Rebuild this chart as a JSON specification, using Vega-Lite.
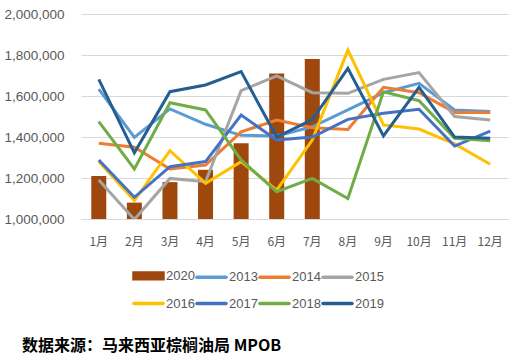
{
  "$schema": "https://vega.github.io/schema/vega-lite/v6.json",
  "width": 427,
  "height": 205,
  "autosize": {"type": "none"},
  "padding": {"left": 81, "top": 14, "right": 7, "bottom": 140},
  "background": "white",
  "title": {
    "text": "数据来源：马来西亚棕榈油局 MPOB",
    "orient": "bottom",
    "anchor": "start",
    "frame": "group",
    "dx": -59,
    "offset": 27,
    "font": "Noto Sans CJK SC",
    "fontSize": 16,
    "fontWeight": "bold",
    "color": "#000000"
  },
  "config": {
    "view": {"stroke": null},
    "axis": {"labelFont": "Liberation Sans", "labelColor": "#595959"}
  },
  "data": {
    "values": [
      {"month": "1月", "year": "2020", "value": 1210000},
      {"month": "2月", "year": "2020", "value": 1080000},
      {"month": "3月", "year": "2020", "value": 1180000},
      {"month": "4月", "year": "2020", "value": 1240000},
      {"month": "5月", "year": "2020", "value": 1370000},
      {"month": "6月", "year": "2020", "value": 1710000},
      {"month": "7月", "year": "2020", "value": 1780000},

      {"month": "1月", "year": "2013", "value": 1634000},
      {"month": "2月", "year": "2013", "value": 1398000},
      {"month": "3月", "year": "2013", "value": 1537000},
      {"month": "4月", "year": "2013", "value": 1462000},
      {"month": "5月", "year": "2013", "value": 1408000},
      {"month": "6月", "year": "2013", "value": 1405000},
      {"month": "7月", "year": "2013", "value": 1450000},
      {"month": "8月", "year": "2013", "value": 1532000},
      {"month": "9月", "year": "2013", "value": 1616000},
      {"month": "10月", "year": "2013", "value": 1662000},
      {"month": "11月", "year": "2013", "value": 1532000},
      {"month": "12月", "year": "2013", "value": 1524000},

      {"month": "1月", "year": "2014", "value": 1369000},
      {"month": "2月", "year": "2014", "value": 1350000},
      {"month": "3月", "year": "2014", "value": 1244000},
      {"month": "4月", "year": "2014", "value": 1263000},
      {"month": "5月", "year": "2014", "value": 1425000},
      {"month": "6月", "year": "2014", "value": 1483000},
      {"month": "7月", "year": "2014", "value": 1445000},
      {"month": "8月", "year": "2014", "value": 1437000},
      {"month": "9月", "year": "2014", "value": 1642000},
      {"month": "10月", "year": "2014", "value": 1616000},
      {"month": "11月", "year": "2014", "value": 1520000},
      {"month": "12月", "year": "2014", "value": 1520000},

      {"month": "1月", "year": "2015", "value": 1190000},
      {"month": "2月", "year": "2015", "value": 998000},
      {"month": "3月", "year": "2015", "value": 1198000},
      {"month": "4月", "year": "2015", "value": 1182000},
      {"month": "5月", "year": "2015", "value": 1626000},
      {"month": "6月", "year": "2015", "value": 1698000},
      {"month": "7月", "year": "2015", "value": 1616000},
      {"month": "8月", "year": "2015", "value": 1613000},
      {"month": "9月", "year": "2015", "value": 1681000},
      {"month": "10月", "year": "2015", "value": 1714000},
      {"month": "11月", "year": "2015", "value": 1500000},
      {"month": "12月", "year": "2015", "value": 1483000},

      {"month": "1月", "year": "2016", "value": 1280000},
      {"month": "2月", "year": "2016", "value": 1090000},
      {"month": "3月", "year": "2016", "value": 1333000},
      {"month": "4月", "year": "2016", "value": 1174000},
      {"month": "5月", "year": "2016", "value": 1280000},
      {"month": "6月", "year": "2016", "value": 1141000},
      {"month": "7月", "year": "2016", "value": 1385000},
      {"month": "8月", "year": "2016", "value": 1824000},
      {"month": "9月", "year": "2016", "value": 1459000},
      {"month": "10月", "year": "2016", "value": 1439000},
      {"month": "11月", "year": "2016", "value": 1366000},
      {"month": "12月", "year": "2016", "value": 1267000},

      {"month": "1月", "year": "2017", "value": 1288000},
      {"month": "2月", "year": "2017", "value": 1106000},
      {"month": "3月", "year": "2017", "value": 1255000},
      {"month": "4月", "year": "2017", "value": 1280000},
      {"month": "5月", "year": "2017", "value": 1507000},
      {"month": "6月", "year": "2017", "value": 1385000},
      {"month": "7月", "year": "2017", "value": 1400000},
      {"month": "8月", "year": "2017", "value": 1486000},
      {"month": "9月", "year": "2017", "value": 1516000},
      {"month": "10月", "year": "2017", "value": 1535000},
      {"month": "11月", "year": "2017", "value": 1356000},
      {"month": "12月", "year": "2017", "value": 1429000},

      {"month": "1月", "year": "2018", "value": 1475000},
      {"month": "2月", "year": "2018", "value": 1244000},
      {"month": "3月", "year": "2018", "value": 1567000},
      {"month": "4月", "year": "2018", "value": 1532000},
      {"month": "5月", "year": "2018", "value": 1288000},
      {"month": "6月", "year": "2018", "value": 1133000},
      {"month": "7月", "year": "2018", "value": 1198000},
      {"month": "8月", "year": "2018", "value": 1100000},
      {"month": "9月", "year": "2018", "value": 1621000},
      {"month": "10月", "year": "2018", "value": 1577000},
      {"month": "11月", "year": "2018", "value": 1394000},
      {"month": "12月", "year": "2018", "value": 1382000},

      {"month": "1月", "year": "2019", "value": 1681000},
      {"month": "2月", "year": "2019", "value": 1323000},
      {"month": "3月", "year": "2019", "value": 1621000},
      {"month": "4月", "year": "2019", "value": 1654000},
      {"month": "5月", "year": "2019", "value": 1719000},
      {"month": "6月", "year": "2019", "value": 1400000},
      {"month": "7月", "year": "2019", "value": 1485000},
      {"month": "8月", "year": "2019", "value": 1735000},
      {"month": "9月", "year": "2019", "value": 1405000},
      {"month": "10月", "year": "2019", "value": 1642000},
      {"month": "11月", "year": "2019", "value": 1400000},
      {"month": "12月", "year": "2019", "value": 1394000}
    ]
  },
  "encoding": {
    "x": {
      "field": "month",
      "type": "ordinal",
      "sort": ["1月","2月","3月","4月","5月","6月","7月","8月","9月","10月","11月","12月"],
      "scale": {"paddingInner": 0, "paddingOuter": 0},
      "axis": {
        "title": null,
        "labelAngle": 0,
        "ticks": false,
        "tickSize": 0,
        "labelPadding": 17,
        "labelFontSize": 12,
        "labelFont": "Noto Sans CJK SC",
        "domainColor": "#D9D9D9",
        "domainWidth": 1
      }
    },
    "y": {
      "field": "value",
      "type": "quantitative",
      "scale": {"domain": [1000000, 2000000], "zero": false},
      "axis": {
        "title": null,
        "values": [1000000, 1200000, 1400000, 1600000, 1800000, 2000000],
        "format": ",.0f",
        "domain": false,
        "ticks": false,
        "tickSize": 0,
        "labelPadding": 17,
        "labelFontSize": 13.5,
        "gridColor": "#D9D9D9",
        "gridWidth": 1
      }
    },
    "color": {
      "field": "year",
      "type": "nominal",
      "scale": {
        "domain": ["2020","2013","2014","2015","2016","2017","2018","2019"],
        "range": ["#9E480E","#5B9BD5","#ED7D31","#A5A5A5","#FFC000","#4472C4","#70AD47","#255E91"]
      },
      "legend": {
        "title": null,
        "orient": "none",
        "legendX": 51,
        "legendY": 245,
        "direction": "horizontal",
        "columns": 4,
        "columnPadding": -5,
        "rowPadding": 1,
        "symbolSize": 841,
        "symbolStrokeWidth": 3.5,
        "symbolType": "stroke",
        "labelFont": "Liberation Sans",
        "labelFontSize": 13,
        "labelColor": "#595959",
        "labelOffset": 1,
        "encode": {
          "symbols": {
            "update": {
              "shape": {"signal": "datum.value == '2020' ? 'M-1,-0.2H1V0.2H-1Z' : 'stroke'"},
              "fill": {"signal": "datum.value == '2020' ? '#9E480E' : 'transparent'"},
              "strokeCap": {"value": "round"}
            }
          }
        }
      }
    }
  },
  "layer": [
    {
      "transform": [{"filter": "datum.year == '2020'"}],
      "mark": {"type": "bar", "size": 15},
      "encoding": {"y2": {"datum": 1000000}}
    },
    {
      "transform": [{"filter": "datum.year != '2020'"}],
      "mark": {"type": "line", "strokeWidth": 3, "clip": true}
    }
  ]
}
